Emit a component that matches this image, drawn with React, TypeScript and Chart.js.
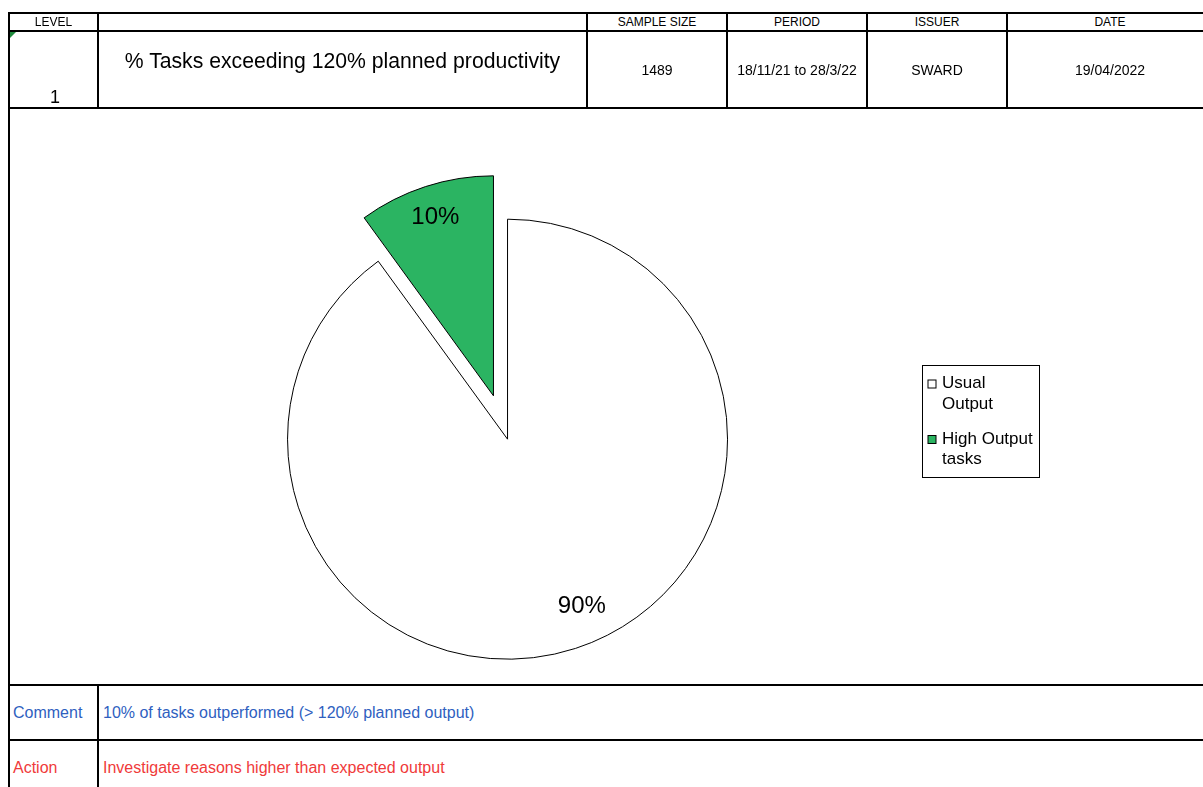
import React, { useEffect, useRef } from "react";
import { Chart, registerables } from "chart.js";

Chart.register(...registerables);

// ---- data ----
const categories = ["Usual Output", "High Output tasks"];
const legendLines = [["Usual", "Output"], ["High Output", "tasks"]];
const shares = [90, 10];
const sliceColors = ["#ffffff", "#2bb462"];

const levelLabel = "LEVEL";
const levelValue = "1";
const titleText = "% Tasks exceeding 120% planned productivity";
const headerLabels = ["SAMPLE SIZE", "PERIOD", "ISSUER", "DATE"];
const headerValues = ["1489", "18/11/21 to 28/3/22", "SWARD", "19/04/2022"];
const commentLabel = "Comment";
const commentText = "10% of tasks outperformed (> 120% planned output)";
const actionLabel = "Action";
const actionText = "Investigate reasons higher than expected output";

// ---- styling ----
const FONT = '"Liberation Sans", Arial, sans-serif';
const PIE_RADIUS = 220;
const explodeDistance = [22.8, 22.8];
const labelRadiusFrac = [0.83, 0.855];
const labelAngleShift = [-6, 0];

// draws each arc moved outward along its bisector (exploded pie)
const explodedArcs = {
  id: "explodedArcs",
  beforeDatasetDraw(chart: any, args: any) {
    const ctx = chart.ctx;
    const meta = args.meta;
    meta.data.forEach((arc: any, i: number) => {
      const h = (arc.startAngle + arc.endAngle) / 2;
      const d = explodeDistance[i] || 0;
      ctx.save();
      ctx.translate(Math.cos(h) * d, Math.sin(h) * d);
      arc.draw(ctx);
      ctx.restore();
    });
    return false;
  },
};

const sliceLabels = {
  id: "sliceLabels",
  afterDatasetsDraw(chart: any) {
    const ctx = chart.ctx;
    const meta = chart.getDatasetMeta(0);
    ctx.save();
    ctx.font = `24px ${FONT}`;
    ctx.fillStyle = "#000";
    ctx.textAlign = "center";
    ctx.textBaseline = "middle";
    meta.data.forEach((arc: any, i: number) => {
      const h = (arc.startAngle + arc.endAngle) / 2;
      const t = explodeDistance[i] || 0;
      const cx = arc.x + Math.cos(h) * t;
      const cy = arc.y + Math.sin(h) * t;
      const a = h + (labelAngleShift[i] * Math.PI) / 180;
      const r = arc.outerRadius * labelRadiusFrac[i];
      const v = chart.data.datasets[0].data[i];
      ctx.fillText(`${v}%`, cx + Math.cos(a) * r, cy + Math.sin(a) * r);
    });
    ctx.restore();
  },
};

const boxLegend = {
  id: "boxLegend",
  afterDraw(chart: any, _args: any, opts: any) {
    const ctx = chart.ctx;
    const { x, y, w, h, lineHeight, itemGap, firstLine } = opts;
    ctx.save();
    ctx.strokeStyle = "#000";
    ctx.lineWidth = 1;
    ctx.strokeRect(x, y, w, h);
    ctx.font = `17px ${FONT}`;
    ctx.textBaseline = "middle";
    ctx.textAlign = "left";
    let cy = y + firstLine;
    const colors = chart.data.datasets[0].backgroundColor;
    legendLines.forEach((lines, i) => {
      ctx.fillStyle = colors[i];
      ctx.fillRect(x + 5.5, cy - 3.5, 8, 8);
      ctx.strokeStyle = "#000";
      ctx.strokeRect(x + 5.5, cy - 3.5, 8, 8);
      ctx.fillStyle = "#000";
      lines.forEach((ln, j) => {
        ctx.fillText(ln, x + 19.5, cy + j * lineHeight);
      });
      cy += (lines.length - 1) * lineHeight + itemGap;
    });
    ctx.restore();
  },
};

function PieChart() {
  const ref = useRef<HTMLCanvasElement>(null);
  useEffect(() => {
    if (!ref.current) return;
    const chart = new Chart(ref.current, {
      type: "pie",
      data: {
        labels: categories,
        datasets: [
          {
            data: shares,
            backgroundColor: sliceColors,
            borderColor: "#000",
            borderWidth: 1,
            borderJoinStyle: "miter",
          } as any,
        ],
      },
      options: {
        animation: false,
        responsive: false,
        maintainAspectRatio: false,
        radius: PIE_RADIUS,
        layout: { padding: { left: 0, right: 212, top: 42, bottom: 0 } },
        plugins: {
          legend: { display: false },
          tooltip: { enabled: false },
          boxLegend: {
            x: 912.5,
            y: 256.5,
            w: 117,
            h: 112,
            lineHeight: 20.5,
            itemGap: 35,
            firstLine: 18,
          },
        } as any,
      } as any,
      plugins: [explodedArcs, sliceLabels, boxLegend],
    });
    return () => chart.destroy();
  }, []);
  return (
    <canvas
      ref={ref}
      width={1193}
      height={575}
      style={{ position: "absolute", left: 10, top: 109, width: 1193, height: 575 }}
    />
  );
}

const HLine = ({ top, left = 8, width = 1200 }: any) => (
  <div style={{ position: "absolute", top, left, width, height: 2, background: "#000" }} />
);
const VLine = ({ left, top, height }: any) => (
  <div style={{ position: "absolute", top, left, width: 2, height, background: "#000" }} />
);
const Txt = ({ x, w, y, size, color = "#000", align = "center", children }: any) => (
  <div
    style={{
      position: "absolute",
      left: x,
      width: w,
      top: y - 15,
      height: 30,
      lineHeight: "30px",
      fontSize: size,
      fontFamily: FONT,
      color,
      textAlign: align,
      whiteSpace: "nowrap",
    }}
  >
    {children}
  </div>
);

export default function App() {
  const colX = [588, 728, 868, 1008];
  const colW = [138, 138, 138, 204];
  return (
    <div style={{ position: "absolute", left: 0, top: 0, width: 1203, height: 787, overflow: "hidden", background: "#fff" }}>
      <PieChart />
      <HLine top={12} />
      <HLine top={30} />
      <HLine top={107} />
      <HLine top={684} />
      <HLine top={739} />
      <VLine left={8} top={12} height={780} />
      <VLine left={97} top={12} height={97} />
      <VLine left={586} top={12} height={97} />
      <VLine left={726} top={12} height={97} />
      <VLine left={866} top={12} height={97} />
      <VLine left={1006} top={12} height={97} />
      <VLine left={97} top={684} height={110} />
      <div
        style={{
          position: "absolute",
          left: 10,
          top: 32,
          width: 0,
          height: 0,
          borderTop: "6px solid #1f8a3c",
          borderRight: "6px solid transparent",
        }}
      />
      <Txt x={10} w={87} y={21.5} size={12}>{levelLabel}</Txt>
      <Txt x={10} w={90} y={97} size={18}>{levelValue}</Txt>
      <Txt x={99} w={487} y={61} size={21.2}>{titleText}</Txt>
      {headerLabels.map((t, i) => (
        <Txt key={t} x={colX[i]} w={colW[i]} y={21.5} size={12}>{t}</Txt>
      ))}
      {headerValues.map((t, i) => (
        <Txt key={t} x={colX[i]} w={colW[i]} y={70} size={14}>{t}</Txt>
      ))}
      <Txt x={13} w={80} y={713} size={16} color="#2f5fbf" align="left">{commentLabel}</Txt>
      <Txt x={103} w={800} y={713} size={16} color="#2f5fbf" align="left">{commentText}</Txt>
      <Txt x={13} w={80} y={768} size={16} color="#f03a3a" align="left">{actionLabel}</Txt>
      <Txt x={103} w={800} y={768} size={16} color="#f03a3a" align="left">{actionText}</Txt>
    </div>
  );
}
